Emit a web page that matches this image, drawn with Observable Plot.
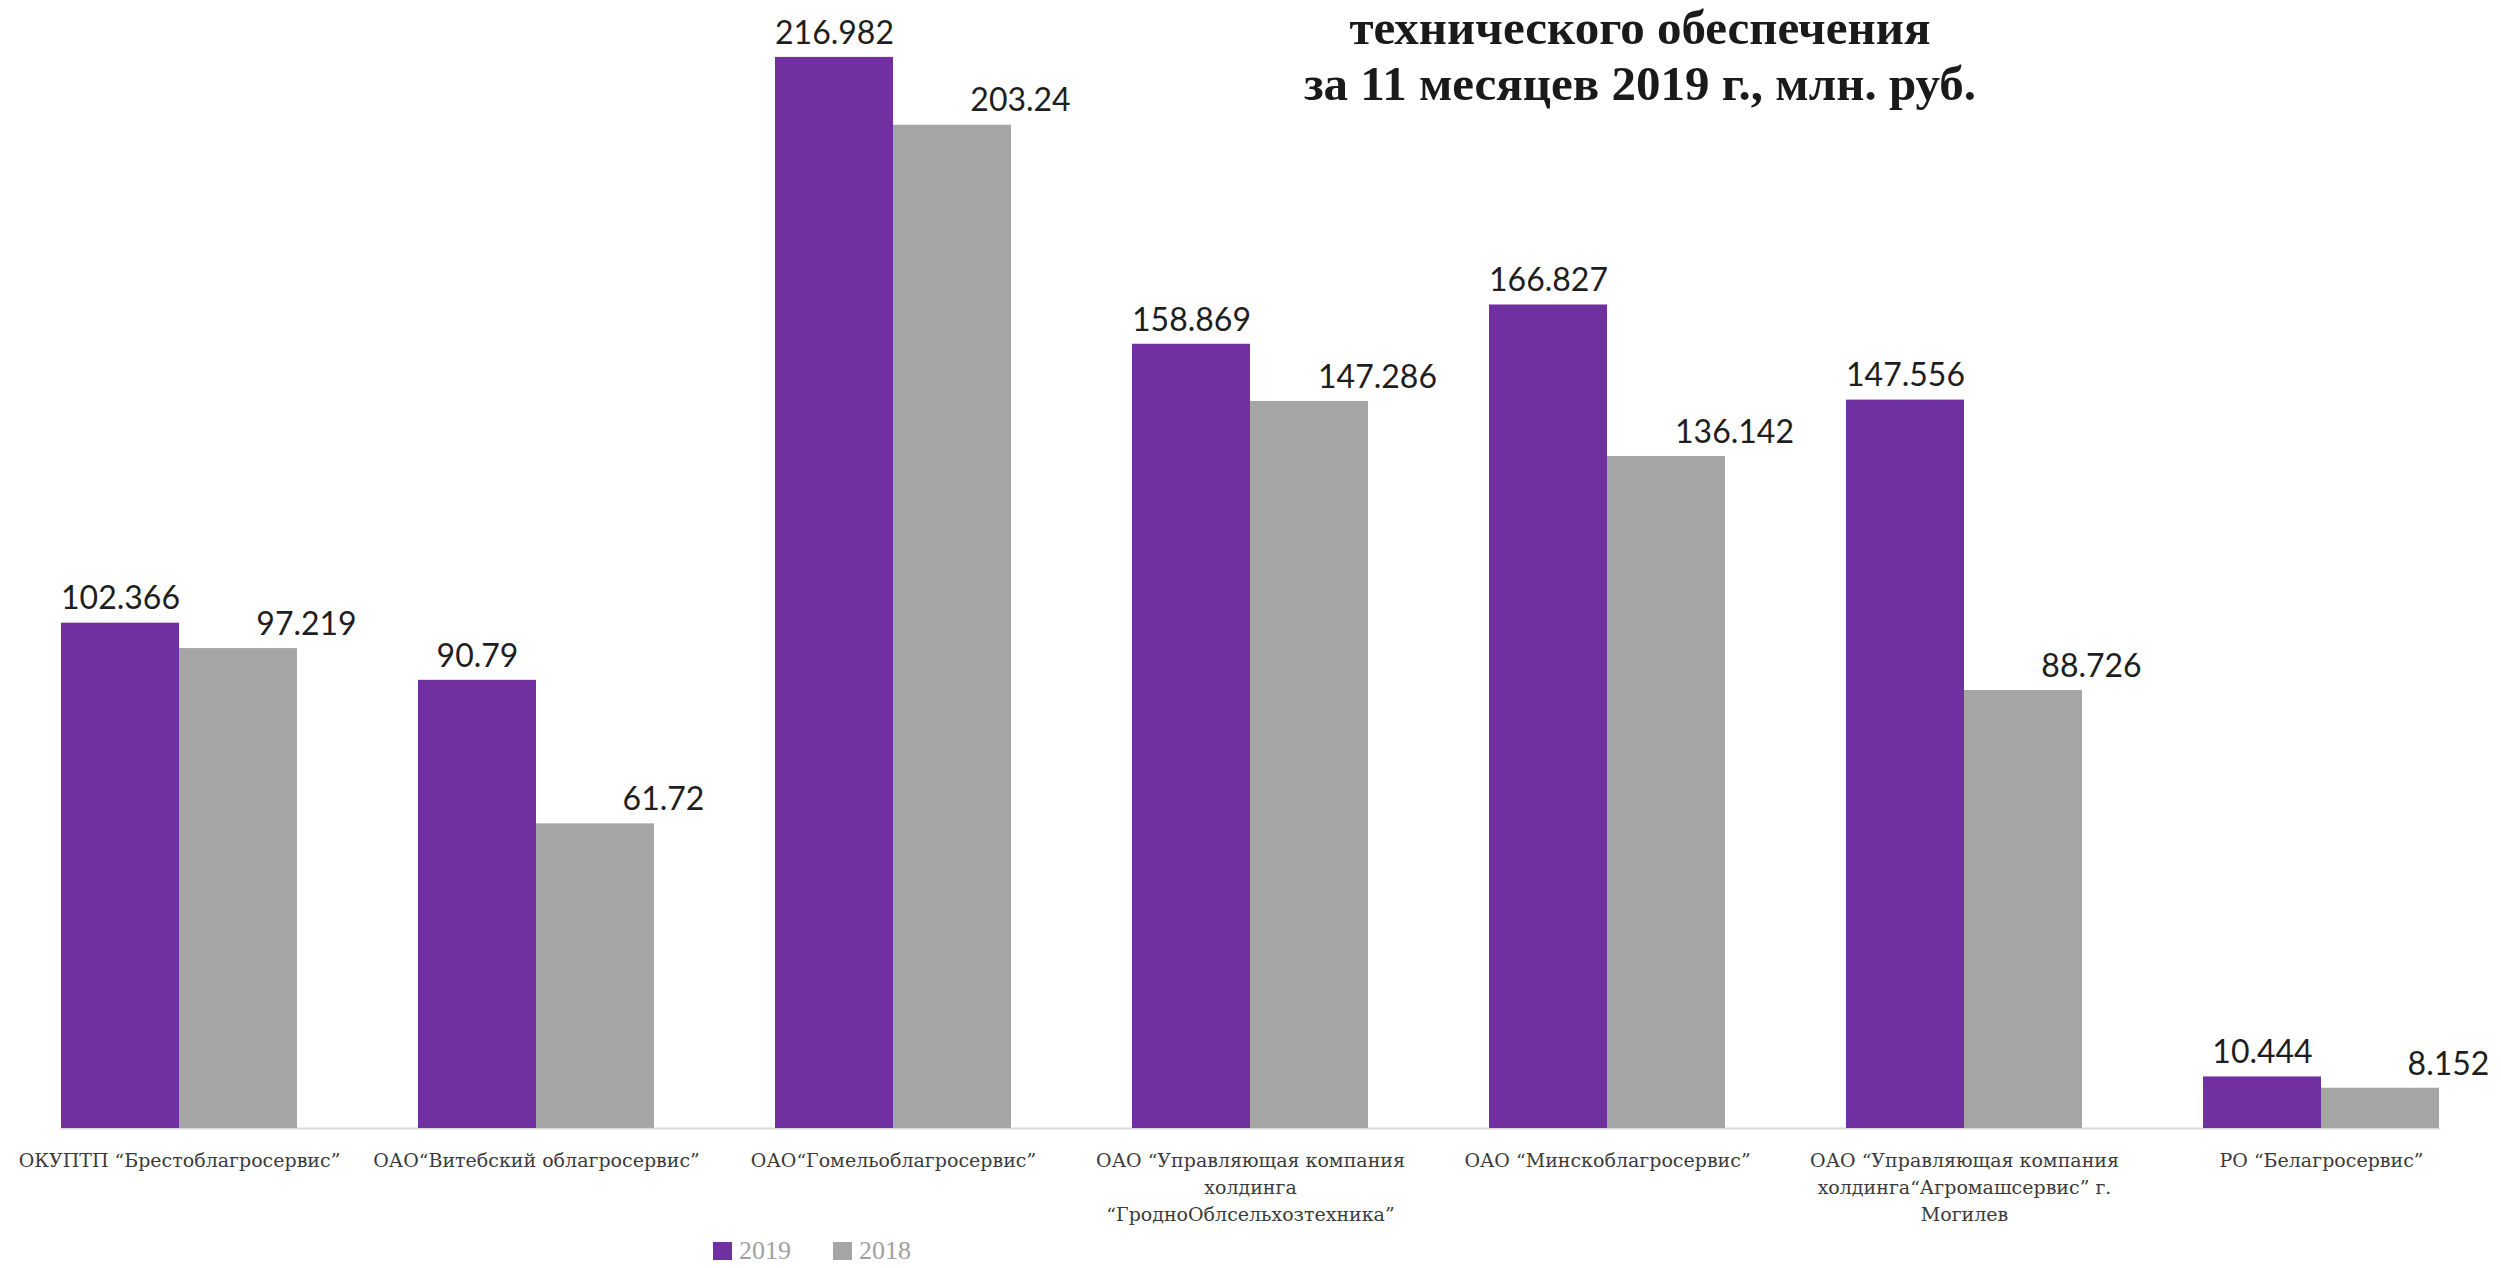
<!DOCTYPE html>
<html>
<head>
<meta charset="utf-8">
<script src="https://cdn.jsdelivr.net/npm/d3@7"></script>
<script src="https://cdn.jsdelivr.net/npm/@observablehq/plot@0.6"></script>
<style>
  html, body { margin: 0; padding: 0; background: #ffffff; }
  #wrap { position: relative; width: 2501px; height: 1268px; overflow: hidden; background: #fff; }
  #chart { position: absolute; left: 0; top: 0; }
  .title { position: absolute; left: 1140px; width: 1000px; height: 54px; text-align: center;
           font-family: "Liberation Serif", "Times New Roman", serif; font-weight: bold;
           font-size: 49px; line-height: 55px; color: #1a1a1a; }
  #legend { position: absolute; left: 713px; top: 1238px; display: flex; align-items: center;
            font-family: "Liberation Serif", serif; font-size: 26px; line-height: 26px; color: #a0a0a0; }
  #legend .item { display: flex; align-items: center; margin-right: 42px; }
  #legend .sw { width: 19px; height: 18px; margin-right: 7px; }
</style>
</head>
<body>
<div id="wrap">
  <div id="chart"></div>
  <div class="title" style="top:0px">технического обеспечения</div>
  <div class="title" style="top:56px">за 11 месяцев 2019 г., млн. руб.</div>
  <div id="legend"></div>
</div>
<script>
const categories = [
  "Брест", "Витебск", "Гомель", "Гродно", "Минск", "Могилев", "Белагросервис"
];
const tickLabels = [
  "ОКУПТП “Брестоблагросервис”",
  "ОАО“Витебский облагросервис”",
  "ОАО“Гомельоблагросервис”",
  "ОАО “Управляющая компания\nхолдинга\n“ГродноОблсельхозтехника”",
  "ОАО “Минскоблагросервис”",
  "ОАО “Управляющая компания\nхолдинга“Агромашсервис” г.\nМогилев",
  "РО “Белагросервис”"
];
const years = ["2019", "2018"];
const values2019 = [102.366, 90.79, 216.982, 158.869, 166.827, 147.556, 10.444];
const values2018 = [97.219, 61.72, 203.24, 147.286, 136.142, 88.726, 8.152];
const colors = ["#7030A0", "#A5A5A5"];

const data = categories.flatMap((c, i) => [
  {cat: c, year: "2019", value: values2019[i]},
  {cat: c, year: "2018", value: values2018[i]}
]);

const chart = Plot.plot({
  width: 2501,
  height: 1232,
  marginLeft: 0,
  marginRight: 0,
  marginTop: 42,
  marginBottom: 104,
  style: {background: "transparent"},
  fx: {domain: categories, paddingInner: 0.338, paddingOuter: 0.17, axis: null, label: null},
  x: {domain: years, padding: 0, axis: null},
  y: {domain: [0, 220], axis: null},
  color: {domain: years, range: colors},
  marks: [
    Plot.frame({anchor: "bottom", stroke: "#d9d9d9", strokeWidth: 2, facet: "super"}),
    Plot.barY(data, {fx: "cat", x: "year", y: "value", fill: "year"}),
    Plot.text(data.filter(d => d.year === "2019"), {
      fx: "cat", x: "year", y: "value", text: d => String(d.value),
      dy: -24, lineAnchor: "middle", fontSize: 32, fontFamily: "Lato", fill: "#1e1e1e"
    }),
    Plot.text(data.filter(d => d.year === "2018"), {
      fx: "cat", x: "year", y: "value", text: d => String(d.value),
      dx: 68, dy: -24, lineAnchor: "middle", fontSize: 32, fontFamily: "Lato", fill: "#1e1e1e"
    }),
    Plot.axisFx({
      anchor: "bottom", tickSize: 0, tickPadding: 19, label: null,
      tickFormat: d => tickLabels[categories.indexOf(d)],
      fontSize: 19, fontFamily: "DejaVu Serif", lineHeight: 1.42, fill: "#3a3a3a"
    })
  ]
});
document.getElementById("chart").appendChild(chart);

const legend = document.getElementById("legend");
years.forEach((y, i) => {
  const item = document.createElement("div");
  item.className = "item";
  const sw = document.createElement("div");
  sw.className = "sw";
  sw.style.background = colors[i];
  const t = document.createElement("span");
  t.textContent = y;
  item.appendChild(sw);
  item.appendChild(t);
  legend.appendChild(item);
});
</script>
</body>
</html>
